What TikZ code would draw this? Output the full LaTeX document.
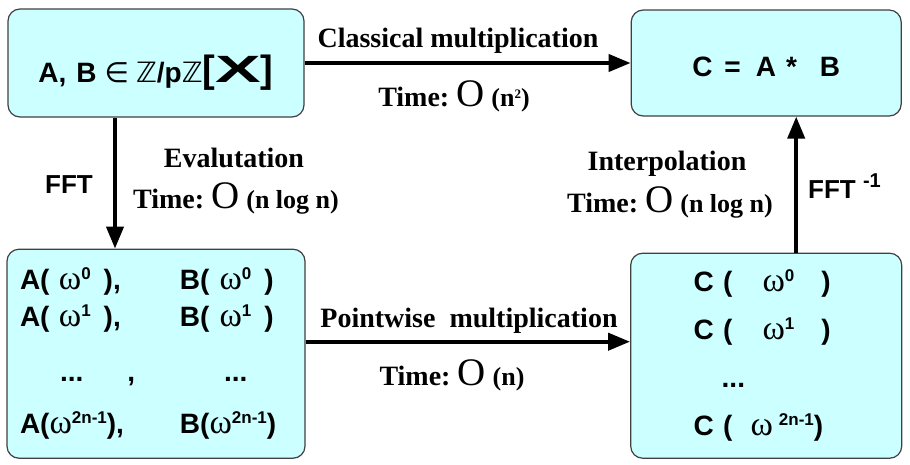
\documentclass[tikz,border=0pt]{standalone}
\usepackage{fontspec}
\setmainfont{Liberation Serif}
\setsansfont{Liberation Sans}
\newfontfamily\symfont{DejaVu Sans}
\usepackage{graphicx}
\usepackage{xcolor}
\usepackage{tikz}
\usetikzlibrary{positioning, arrows.meta}
\definecolor{boxfill}{HTML}{CCFFFF}
\definecolor{boxline}{HTML}{404040}
\tikzstyle{polybox} = [rectangle, rounded corners=12pt, draw=boxline, line width=1.2pt, fill=boxfill, font=\sffamily\bfseries\fontsize{28}{37}\selectfont]
\tikzstyle{steptext} = [font=\rmfamily\bfseries\fontsize{28}{32}\selectfont, inner sep=0pt, anchor=base]
\tikzstyle{ffttext} = [font=\sffamily\bfseries\fontsize{26}{30}\selectfont, inner sep=0pt, anchor=base]
\tikzstyle{arrow} = [line width=4pt, -{Triangle[length=22pt,width=17pt]}]
\newcommand{\om}{{\rmfamily\mdseries\fontsize{34}{34}\selectfont ω}}
\newcommand{\up}[1]{\raisebox{10pt}{\fontsize{17}{17}\selectfont #1}}
\newcommand{\bigO}[1]{Time:\ {\mdseries\fontsize{39}{39}\selectfont O}\ {\fontsize{26}{26}\selectfont(#1)}}

\begin{document}
\begin{tikzpicture}[x=1pt, y=-1pt]
    \useasboundingbox (0,0) rectangle (910,464);

    % Nodes
    \node (ab) [polybox, minimum width=296pt, minimum height=108pt, text height=38pt, text depth=0pt] at (156,63) {A,\hspace{10pt}B\hspace{8pt}{\symfont\mdseries ∈}\hspace{7pt}{\symfont\mdseries ℤ}/p{\symfont\mdseries ℤ}{\fontsize{38}{38}\selectfont[\scalebox{1.8}[1]{X}]}};
    \node (c) [polybox, right=326pt of ab, minimum width=270pt, minimum height=106pt, text height=26pt, text depth=0pt] {C\hspace{12pt}=\hspace{15pt}A\hspace{10pt}*\hspace{23pt}B};
    \node (abw) [polybox, below=131pt of ab, minimum width=298pt, minimum height=209pt, text width=272pt, align=left] {\makebox[160pt][l]{A(\ \om\up{0}\hspace{13pt}),}B(\hspace{10pt}\om\up{0}\hspace{13pt})\\
        \makebox[160pt][l]{A(\ \om\up{1}\hspace{13pt}),}B(\hspace{10pt}\om\up{1}\hspace{13pt})\\[18pt]
        \makebox[160pt][l]{\hspace{40pt}...\hspace{44pt},}\hspace{44pt}...\\[15pt]
        \makebox[160pt][l]{A(\om\up{2n-1}),}B(\om\up{2n-1})};
    \node (cw) [polybox, below=136pt of c, minimum width=271pt, minimum height=205pt, text width=145pt, align=left, font=\sffamily\bfseries\fontsize{28}{48}\selectfont] {C\ (\hspace{30pt}\om\up{0}\hspace{27pt})\\
        C\ (\hspace{30pt}\om\up{1}\hspace{27pt})\\
        \hspace{28pt}...\\
        C\ (\hspace{18pt}\om\hspace{6pt}\up{2n-1})};

    % Labels
    \node (cls) [steptext] at (458,47) {Classical multiplication};
    \node (clst) [steptext] at (454,106) {\bigO{n\raisebox{8pt}{\fontsize{13}{13}\selectfont 2}}};
    \node (pw) [steptext] at (469,327) {Pointwise\ \ multiplication};
    \node (pwt) [steptext] at (452,385) {\bigO{n}};
    \node (ev) [steptext] at (234,167) {Evalutation};
    \node (evt) [steptext] at (236,208) {\bigO{n log n}};
    \node (ip) [steptext] at (667,170) {Interpolation};
    \node (ipt) [steptext] at (670,212) {\bigO{n log n}};
    \node (fft) [ffttext] at (69,193) {FFT};
    \node (ffti) [ffttext, anchor=base west] at (808,198) {FFT\ \raisebox{11pt}{\fontsize{20}{20}\selectfont -1}};

    % Arrows
    \draw [arrow] (ab.east) -- (c.west);
    \draw [arrow] ([xshift=-41pt]ab.south) -- ([xshift=-41pt]ab.south |- abw.north);
    \draw [arrow] ([yshift=12pt]abw.east) -- ([yshift=12pt]abw.east -| cw.west);
    \draw [arrow] ([xshift=30pt]cw.north) -- ([xshift=30pt]cw.north |- c.south);

\end{tikzpicture}
\end{document}
